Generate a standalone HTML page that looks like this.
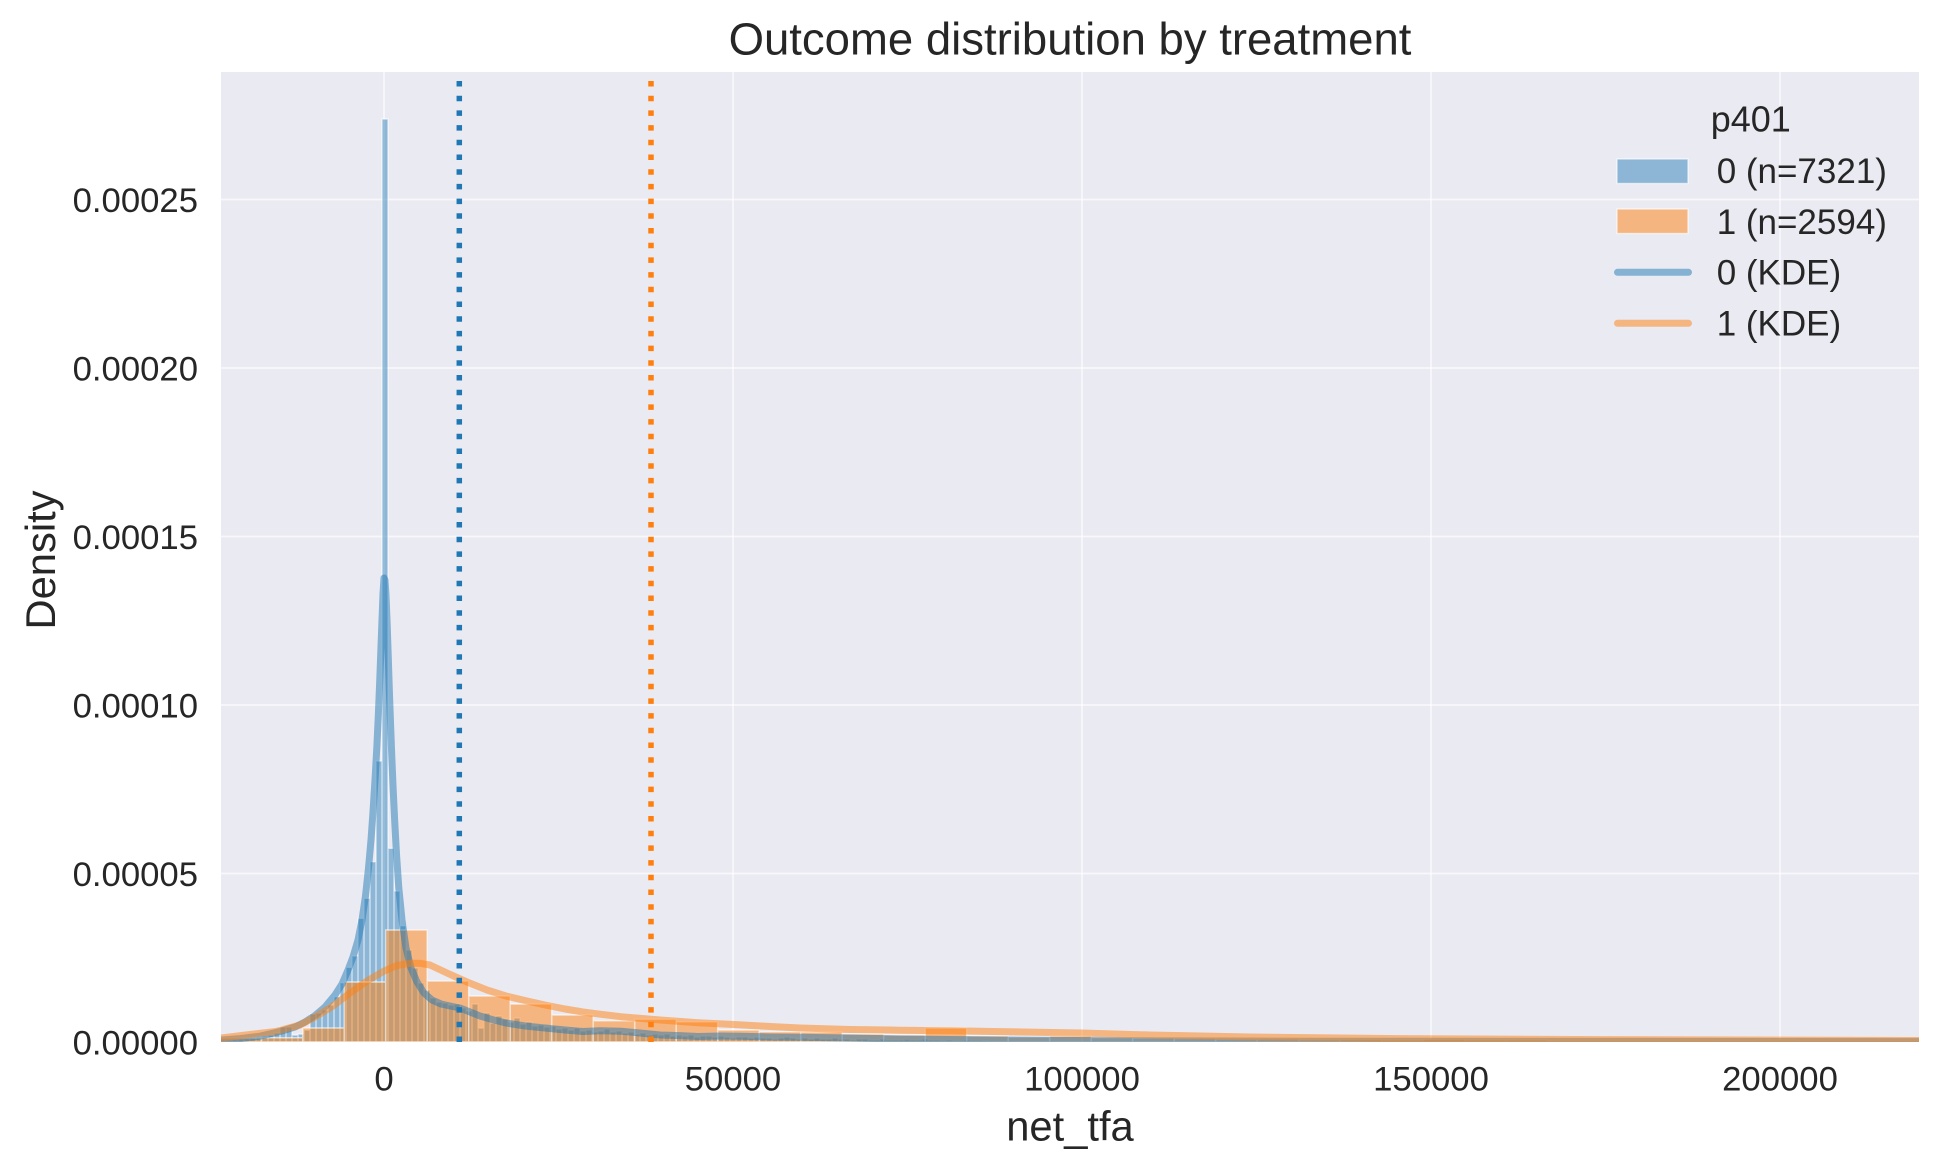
<!DOCTYPE html>
<html>
<head>
<meta charset="utf-8">
<style>
html,body{margin:0;padding:0;background:#fff;}
svg{display:block;}
text{font-family:"Liberation Sans",Arial,sans-serif;fill:#262626;}
</style>
</head>
<body>
<svg width="1940" height="1170" viewBox="0 0 1940 1170" xmlns="http://www.w3.org/2000/svg">
<defs>
<clipPath id="ax"><rect x="221" y="72" width="1698" height="970"/></clipPath>
</defs>
<!-- axes background -->
<rect x="221" y="72" width="1698" height="970" fill="#eaeaf2"/>
<!-- grid -->
<g stroke="#ffffff" stroke-width="1.8" stroke-opacity="0.65">
<line x1="384" y1="72" x2="384" y2="1042"/>
<line x1="733" y1="72" x2="733" y2="1042"/>
<line x1="1082" y1="72" x2="1082" y2="1042"/>
<line x1="1431" y1="72" x2="1431" y2="1042"/>
<line x1="1780" y1="72" x2="1780" y2="1042"/>
<line x1="221" y1="873.5" x2="1919" y2="873.5"/>
<line x1="221" y1="705" x2="1919" y2="705"/>
<line x1="221" y1="536.5" x2="1919" y2="536.5"/>
<line x1="221" y1="368" x2="1919" y2="368"/>
<line x1="221" y1="199.5" x2="1919" y2="199.5"/>
</g>
<g clip-path="url(#ax)">
<!-- blue histogram -->
<path fill="#1f77b4" fill-opacity="0.46" stroke="#ffffff" stroke-opacity="0.6" stroke-width="1.4" d="
M220 1042V1040h6V1042z M226 1042V1040h6V1042z M232 1042V1039.5h6V1042z M238 1042V1039h6V1042z
M244 1042V1038.5h6V1042z M250 1042V1038h6V1042z M256 1042V1037h6V1042z M262 1042V1036h6V1042z
M268 1042V1035h6V1042z M274 1042V1033h6V1042z M280 1042V1027h6V1042z M286 1042V1027h6V1042z
M292 1042V1035h6V1042z M298 1042V1034h6V1042z M304 1042V1030h6V1042z M310 1042V1014h6V1042z
M316 1042V1013h6V1042z M322 1042V1010h6V1042z M328 1042V1005h6V1042z M334 1042V996.7h6V1042z
M340 1042V982.7h6V1042z M346 1042V967.3h6V1042z M352 1042V956h6V1042z M358 1042V918.3h6V1042z
M364 1042V898.3h6V1042z M370 1042V861.7h6V1042z M376 1042V761h6V1042z M382 1042V119h6V1042z
M388 1042V848.3h6V1042z M394 1042V891h6V1042z M400 1042V925.7h6V1042z M406 1042V950h6V1042z
M412 1042V968h6V1042z M418 1042V983h6V1042z M424 1042V990h6V1042z M430 1042V998h6V1042z
M436 1042V1002h6V1042z M442 1042V1003h6V1042z M448 1042V1005h6V1042z M454 1042V1004h6V1042z
M460 1042V1008h6V1042z M466 1042V1011h6V1042z M472 1042V1004h6V1042z M478 1042V1028h6V1042z
M484 1042V1013h6V1042z M490 1042V1023h6V1042z M496 1042V1016h6V1042z M502 1042V1019h6V1042z
M508 1042V1022h6V1042z M514 1042V1018h6V1042z M520 1042V1024h6V1042z M526 1042V1022h6V1042z
M532 1042V1026h6V1042z M538 1042V1025h6V1042z M544 1042V1027h6V1042z M550 1042V1026h6V1042z
M556 1042V1029h6V1042z M562 1042V1028h6V1042z M568 1042V1030h6V1042z M574 1042V1028h6V1042z
M580 1042V1031h6V1042z M586 1042V1030h6V1042z M592 1042V1032h6V1042z M598 1042V1031h6V1042z
M604 1042V1029h6V1042z M610 1042V1032h6V1042z M616 1042V1031h6V1042z M622 1042V1033h6V1042z
M628 1042V1032h6V1042z M634 1042V1034h6V1042z M640 1042V1033h6V1042z M646 1042V1035h6V1042z
M652 1042V1034h6V1042z M658 1042V1035h6V1042z M664 1042V1034h6V1042z M670 1042V1036h6V1042z
M676 1042V1035h6V1042z M682 1042V1036h6V1042z M688 1042V1035h6V1042z M694 1042V1037h6V1042z
M700 1042V1036h6V1042z M706 1042V1036h6V1042z M712 1042V1037h6V1042z M718 1042V1036h6V1042z
M724 1042V1037h6V1042z M730 1042V1038h6V1042z M736 1042V1037h6V1042z M742 1042V1037h6V1042z
M748 1042V1038h6V1042z M754 1042V1037h6V1042z M760 1042V1038h6V1042z M766 1042V1038h6V1042z
M772 1042V1039h6V1042z M778 1042V1038h6V1042z M784 1042V1037h6V1042z M790 1042V1038h6V1042z
M796 1042V1039h6V1042z M802 1042V1038h6V1042z M808 1042V1039h6V1042z M814 1042V1038h6V1042z
M820 1042V1039h6V1042z M826 1042V1039h6V1042z M832 1042V1038h6V1042z M838 1042V1039h6V1042z
M844 1042V1039h6V1042z M850 1042V1040h6V1042z M856 1042V1039h6V1042z M862 1042V1039h6V1042z
M868 1042V1040h6V1042z M874 1042V1040h6V1042z M880 1042V1039h6V1042z M886 1042V1040h6V1042z
M892 1042V1040h6V1042z M898 1042V1040h6V1042z M904 1042V1039.5h6V1042z M910 1042V1040h6V1042z
M916 1042V1040h6V1042z M922 1042V1039h6V1042z M928 1042V1040h6V1042z M934 1042V1040h6V1042z
M940 1042V1040.5h6V1042z M946 1042V1040h6V1042z M952 1042V1040.5h6V1042z M958 1042V1040.5h6V1042z
M964 1042V1040h6V1042z M970 1042V1040.5h6V1042z M976 1042V1040.5h6V1042z M982 1042V1041h6V1042z
"/>
<!-- orange histogram -->
<path fill="#ff7f0e" fill-opacity="0.5" stroke="#ffffff" stroke-opacity="0.6" stroke-width="1.5" d="
M219.7 1042V1038h41.5V1042z M261.2 1042V1037.7h41.5V1042z M302.7 1042V1028h41.5V1042z
M344.2 1042V982h41.5V1042z M385.7 1042V930h41.5V1042z M427.2 1042V981h41.5V1042z
M468.7 1042V996h41.5V1042z M510.2 1042V1004h41.5V1042z M551.7 1042V1015h41.5V1042z
M593.2 1042V1020.7h41.5V1042z M634.7 1042V1019.3h41.5V1042z M676.2 1042V1021.7h41.5V1042z
M717.7 1042V1030h41.5V1042z M759.2 1042V1031.7h41.5V1042z M800.7 1042V1032h41.5V1042z
M842.2 1042V1034h41.5V1042z M883.7 1042V1035h41.5V1042z M925.2 1042V1028h41.5V1042z
M966.7 1042V1036h41.5V1042z M1008.2 1042V1037h41.5V1042z M1049.7 1042V1036h41.5V1042z
M1091.2 1042V1037.5h41.5V1042z M1132.7 1042V1038h41.5V1042z M1174.2 1042V1038.5h41.5V1042z
M1215.7 1042V1039h41.5V1042z M1257.2 1042V1039h41.5V1042z M1298.7 1042V1039.5h41.5V1042z
M1340.2 1042V1039.5h41.5V1042z M1381.7 1042V1040h41.5V1042z M1423.2 1042V1039.5h41.5V1042z
M1464.7 1042V1040h41.5V1042z M1506.2 1042V1040h41.5V1042z M1547.7 1042V1040.5h41.5V1042z
M1589.2 1042V1040.5h41.5V1042z M1630.7 1042V1040.5h41.5V1042z M1672.2 1042V1040.5h41.5V1042z
M1713.7 1042V1041h41.5V1042z M1755.2 1042V1040.5h41.5V1042z M1796.7 1042V1041h41.5V1042z
M1838.2 1042V1041h41.5V1042z M1879.7 1042V1041h41.5V1042z
"/>
<!-- KDE lines -->
<polyline fill="none" stroke="#1f77b4" stroke-opacity="0.5" stroke-width="7" stroke-linejoin="round" stroke-linecap="round" points="
215,1040.3 221,1040 240,1038.6 260,1036.2 280,1031.5 295,1027 305,1022 315,1015.5 325,1007 335,995 342,984 348,970 353,957 358,940 362,920 365.5,896 368.5,868 371,840 373,812 375,780 376.8,748 378.3,716 379.6,684 380.8,652 382,620 383,594 384,578 385,580 386,595 387.2,625 388.3,658 389.4,692 390.6,725 391.8,757 393.2,790 394.8,823 396.6,856 398.8,888 402,920 406,948 411,968 417,982 424,993 432,1000 441,1004 450,1006 460,1008 470,1012 480,1016 492,1019.5 506,1023 525,1026 545,1028 565,1030 583,1031.5 600,1030.8 621,1031.2 640,1033 660,1035 680,1035.6 698,1036.5 720,1036 740,1036.2 770,1037 800,1037.2 850,1038 900,1039 1000,1040 1100,1040.6 1300,1041.2 1925,1041.6"/>
<polyline fill="none" stroke="#ff7f0e" stroke-opacity="0.5" stroke-width="7" stroke-linejoin="round" stroke-linecap="round" points="
215,1038.6 221,1038 250,1034.5 276,1031.5 300,1025 315,1017 333,1006 350,993 367,981 384,971 397,965.5 410,963.3 420,963.3 430,965 447,973 467,982 487,990 506,996 525,1000.5 545,1005 565,1009 583,1012 600,1014.2 621,1016.7 660,1020 698,1022.7 736,1024.6 770,1026.5 800,1028 850,1029.5 900,1030.2 950,1030.8 1000,1031.6 1082,1033 1150,1035 1250,1037 1400,1038.6 1600,1039.6 1925,1040.5"/>
<!-- mean lines -->
<line x1="459.3" y1="1042" x2="459.3" y2="72" stroke="#1f77b4" stroke-width="5.5" stroke-dasharray="5.5 9.2"/>
<line x1="651" y1="1042" x2="651" y2="72" stroke="#ff7f0e" stroke-width="5.5" stroke-dasharray="5.5 9.2"/>
</g>
<!-- title -->
<text x="1070" y="54.3" font-size="45.5" text-anchor="middle">Outcome distribution by treatment</text>
<!-- y tick labels -->
<g font-size="34.7" text-anchor="end">
<text x="198" y="1054.4">0.00000</text>
<text x="198" y="885.9">0.00005</text>
<text x="198" y="717.4">0.00010</text>
<text x="198" y="548.9">0.00015</text>
<text x="198" y="380.4">0.00020</text>
<text x="198" y="211.9">0.00025</text>
</g>
<!-- x tick labels -->
<g font-size="34.7" text-anchor="middle">
<text x="384" y="1090.7">0</text>
<text x="733" y="1090.7">50000</text>
<text x="1082" y="1090.7">100000</text>
<text x="1431" y="1090.7">150000</text>
<text x="1780" y="1090.7">200000</text>
</g>
<!-- axis labels -->
<text x="1070" y="1140.7" font-size="41.7" text-anchor="middle">net_tfa</text>
<text x="0" y="0" font-size="41.7" text-anchor="middle" transform="translate(55,560) rotate(-90)">Density</text>
<!-- legend -->
<text x="1710.7" y="131.7" font-size="36">p401</text>
<rect x="1617" y="159" width="71" height="24.5" fill="#1f77b4" fill-opacity="0.46" stroke="#ffffff" stroke-opacity="0.6" stroke-width="1.4"/>
<rect x="1617" y="209" width="71" height="24.5" fill="#ff7f0e" fill-opacity="0.5" stroke="#ffffff" stroke-opacity="0.6" stroke-width="1.4"/>
<line x1="1617.5" y1="272.3" x2="1688.5" y2="272.3" stroke="#1f77b4" stroke-opacity="0.5" stroke-width="7" stroke-linecap="round"/>
<line x1="1617.5" y1="323.3" x2="1688.5" y2="323.3" stroke="#ff7f0e" stroke-opacity="0.5" stroke-width="7" stroke-linecap="round"/>
<g font-size="35">
<text x="1716.7" y="183">0 (n=7321)</text>
<text x="1716.7" y="234">1 (n=2594)</text>
<text x="1716.7" y="284.5">0 (KDE)</text>
<text x="1716.7" y="335.5">1 (KDE)</text>
</g>
</svg>
</body>
</html>
